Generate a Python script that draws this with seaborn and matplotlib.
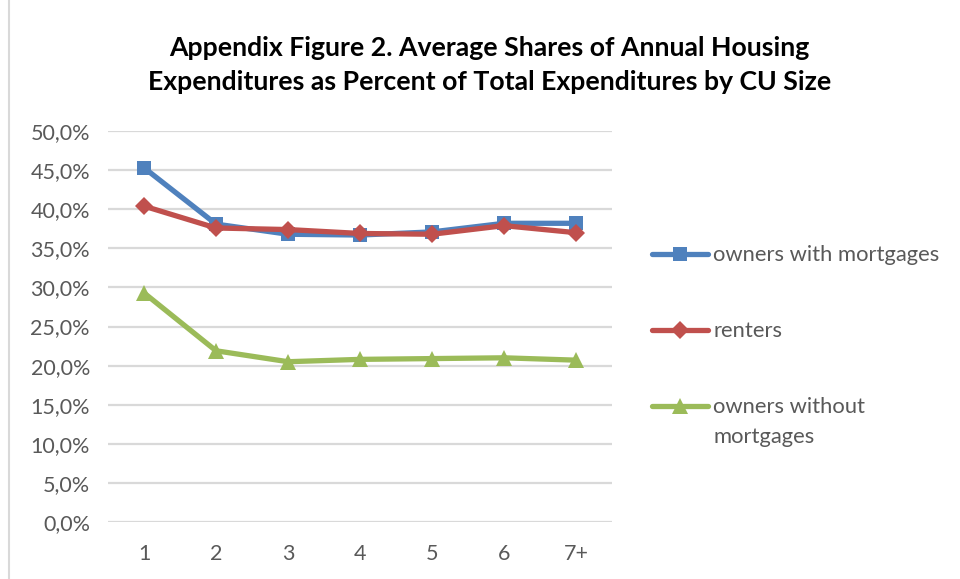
import pandas as pd
import matplotlib.pyplot as plt
import seaborn as sns
from matplotlib.ticker import FuncFormatter
from matplotlib.patches import Rectangle

cu_size = ['1', '2', '3', '4', '5', '6', '7+']
owners_mortgage = [45.3, 38.1, 36.8, 36.7, 37.1, 38.2, 38.2]
renters = [40.4, 37.6, 37.4, 36.9, 36.8, 37.9, 37.0]
owners_no_mortgage = [29.3, 21.9, 20.5, 20.8, 20.9, 21.0, 20.7]

series = ['owners with mortgages', 'renters', 'owners without']
colors = ['#4F81BD', '#C0504D', '#9BBB59']
markers = ['s', 'D', '^']

df = pd.DataFrame({
    'size': cu_size * 3,
    'share': owners_mortgage + renters + owners_no_mortgage,
    'group': [series[0]] * 7 + [series[1]] * 7 + [series[2]] * 7,
})

sns.set_style('white')
plt.rcParams['font.family'] = ['Lato', 'DejaVu Sans']

fig = plt.figure(figsize=(9.6, 5.79), dpi=100)
ax = fig.add_axes([0.1125, 0.0984, 0.525, 0.6753])

for name, col, mk in zip(series, colors, markers):
    sub = df[df.group == name]
    ms = 10 if mk == 's' else (9 if mk == 'D' else 11)
    sns.lineplot(data=sub, x='size', y='share', color=col, marker=mk,
                 markersize=ms, markeredgewidth=0, linewidth=3.8,
                 sort=False, label=name, ax=ax)

ax.set_xlim(-0.5, 6.5)
ax.set_ylim(0, 50)
ax.set_yticks(range(0, 51, 5))
ax.yaxis.set_major_formatter(FuncFormatter(lambda v, p: f'{v:.1f}%'.replace('.', ',')))
ax.grid(axis='y', color='#D9D9D9', linewidth=1.6)
ax.set_axisbelow(True)
for s in ax.spines.values():
    s.set_visible(False)
ax.tick_params(axis='both', length=0, labelsize=15.5, labelcolor='#595959')
ax.tick_params(axis='y', pad=13)
ax.tick_params(axis='x', pad=16)
ax.set_xlabel('')
ax.set_ylabel('')

leg = ax.legend(loc='upper left', bbox_to_anchor=(0.679, 0.576), bbox_transform=fig.transFigure,
                frameon=False, fontsize=15.8, handlelength=2.55, handletextpad=0.25,
                labelspacing=2.55, borderaxespad=0, borderpad=0)
for t in leg.get_texts():
    t.set_color('#595959')

# second line of the last legend label, kept beside the first line like the original
fig.canvas.draw()
bb = leg.get_texts()[2].get_window_extent()
fig.text(bb.x0 / fig.bbox.width, (bb.y0 - 30) / fig.bbox.height, 'mortgages',
         ha='left', va='bottom', fontsize=15.8, color='#595959')

fig.text(0.51, 0.8886, 'Appendix Figure 2. Average Shares of Annual Housing\n'
         'Expenditures as Percent of Total Expenditures by CU Size',
         ha='center', va='center', fontsize=19.2, fontweight='bold',
         color='#000000', linespacing=1.5)

fig.patches.append(Rectangle((0.009, -0.05), 1.2, 1.2, transform=fig.transFigure,
                             fill=False, edgecolor='#D9D9D9', linewidth=1.5))

fig.savefig('out.png', dpi=100)
